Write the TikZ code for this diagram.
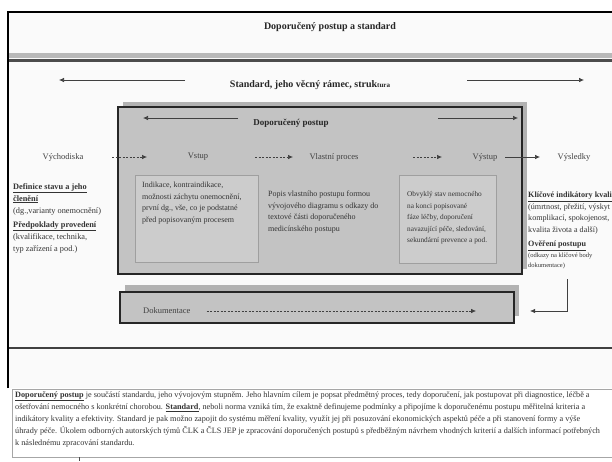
\documentclass[tikz,border=0pt]{standalone}
\usepackage{fontspec}
\setmainfont{Liberation Serif}
\usetikzlibrary{arrows.meta,calc}
\begin{document}
\begin{tikzpicture}[x=1pt,y=-1pt,
  txt/.style={inner sep=0pt, text=black!80, font=\fontsize{8}{11.5}\selectfont},
  lbl/.style={inner sep=0pt, text=black!75, font=\fontsize{8.5}{10}\selectfont},
  hd/.style={inner sep=0pt, text=black!85, font=\bfseries\fontsize{10}{12}\selectfont},
  arr/.style={draw=black!75, line width=0.7pt, -{Latex[length=5pt,width=4.5pt]}},
  darr/.style={arr, dash pattern=on 2pt off 1.5pt},
  bigbox/.style={draw=black!85, line width=2.2pt, fill=gray!47, inner sep=0pt},
  ibox/.style={draw=gray!75, line width=0.6pt, fill=gray!40, inner sep=0pt},
  shade/.style={fill=gray!60}
]
\useasboundingbox (0,0) rectangle (612,461);
\clip (0,0) rectangle (612,461);
\fill[white] (0,0) rectangle (612,461);
% frame
\fill[gray!4] (8,12) rectangle (640,388);
\fill[gray!55] (8,53) rectangle (640,58);
\draw[line width=3pt, black!70] (8,60) -- (640,60);
\draw[line width=2.5pt, black!75] (8,348) -- (640,348);
\draw[line width=2pt, black] (8,388) -- (8,12) -- (640,12);

% title
\node[hd] (title) at (330,27) {Doporučený postup a standard};
\node[hd] (std) at (310,85) {Standard, jeho věcný rámec, struk{\fontsize{7}{8}\selectfont tura}};
\draw[arr] ([shift={(-125,-5)}]std.center) -- ([shift={(-251,-5)}]std.center);
\draw[arr] ([shift={(157,-5)}]std.center) -- ([shift={(274,-5)}]std.center);

% main box
\fill[shade] (123,102) rectangle (527,269);
\node[bigbox, minimum width=404pt, minimum height=167pt] (main) at (320,190.5) {};
\node[hd, font=\bfseries\fontsize{9}{11}\selectfont] (dp) at (291,123) {Doporučený postup};
\draw[arr] ([shift={(-53,-5)}]dp.center) -- ([shift={(-148,-5)}]dp.center);
\draw[arr] ([shift={(147,-5)}]dp.center) -- ([shift={(227,-5)}]dp.center);

% inner boxes
\node[ibox, minimum width=123pt, minimum height=87pt] (inbox) at (196.5,218.5) {};
\node[ibox, minimum width=97pt, minimum height=88pt] (outbox) at (447.5,219) {};

% row labels
\node[lbl] (vych) at (63,157) {Východiska};
\node[lbl] (vstup) at (198,157) {Vstup};
\node[lbl] (vlast) at (334,157) {Vlastní proces};
\node[lbl] (vystup) at (485,157) {Výstup};
\node[lbl] (vysl) at (574,157) {Výsledky};
\draw[darr] ([xshift=49]vych.center) -- ([xshift=-51]vstup.center);
\draw[darr] ([xshift=57]vstup.center) -- ([xshift=-41]vlast.center);
\draw[darr] ([xshift=79]vlast.center) -- ([xshift=-43]vystup.center);
\draw[arr] ([xshift=20]vystup.center) -- ([xshift=-34]vysl.center);

% texts in boxes
\node[txt, anchor=north west, align=left] (intext) at (142,182)
  {Indikace, kontraindikace,\\možnosti záchytu onemocnění,\\první dg., vše, co je podstatné\\před popisovaným procesem};
\node[txt, anchor=north west, align=left] (proctext) at (268,191)
  {Popis vlastního postupu formou\\vývojového diagramu s odkazy do\\textové části doporučeného\\medicínského postupu};
\node[txt, anchor=north west, align=left, font=\fontsize{7.3}{11.5}\selectfont] (outtext) at (407,191.5)
  {Obvyklý stav nemocného\\na konci popisované\\fáze léčby, doporučení\\navazující péče, sledování,\\sekundární prevence a pod.};

% left column
\node[txt, anchor=north west, align=left, font=\fontsize{8.3}{12}\selectfont] (lc) at (13,183)
  {\textbf{\underline{Definice stavu a jeho}}\\\textbf{\underline{členění}}\\(dg.,varianty onemocnění)\\[2pt]
   \textbf{\underline{Předpoklady provedení}}\\(kvalifikace, technika,\\typ zařízení a pod.)};

% right column
\node[txt, anchor=north west, align=left, font=\fontsize{8.1}{11.5}\selectfont] (rc) at (528,192)
  {\textbf{\underline{Klíčové indikátory kvality}}\\(úmrtnost, přežití, výskyt\\komplikací, spokojenost,\\kvalita života a další)\\[3pt]
   \textbf{\underline{Ověření postupu}}\\[-1pt]{\fontsize{6.5}{10}\selectfont (odkazy na klíčové body}\\[-1pt]{\fontsize{6.5}{10}\selectfont dokumentace)}};

% documentation box
\fill[shade] (125,285) rectangle (519,316);
\node[bigbox, minimum width=394pt, minimum height=31pt] (dokbox) at (317,307.5) {};
\node[lbl, anchor=west] (dok) at (143,311) {Dokumentace};
\draw[darr] ([xshift=16]dok.east) -- ($(dok.east -| dokbox.east)+(-39,0)$);
\coordinate (ov) at (567,279);
\draw[arr, line width=0.6pt] (ov) |- ($(dokbox.east)+(15,3.5)$);

% bottom text
\draw[gray!70, line width=1pt, fill=white] (12,389) rectangle (640,457);
\draw[black!70, line width=0.8pt] (79,457) -- (79,461);
\node[txt, anchor=north west, align=left, font=\fontsize{8.2}{12}\selectfont] (para) at (15,391.5)
  {\textbf{\underline{Doporučený postup}} je součástí standardu, jeho vývojovým stupněm. Jeho hlavním cílem je popsat předmětný proces, tedy doporučení, jak postupovat při diagnostice, léčbě a\\
   ošetřování nemocného s konkrétní chorobou. \textbf{\underline{Standard}}, neboli norma vzniká tím, že exaktně definujeme podmínky a připojíme k doporučenému postupu měřitelná kriteria a\\
   indikátory kvality a efektivity. Standard je pak možno zapojit do systému měření kvality, využít jej při posuzování ekonomických aspektů péče a při stanovení formy a výše\\
   úhrady péče. Úkolem odborných autorských týmů ČLK a ČLS JEP je zpracování doporučených postupů s předběžným návrhem vhodných kriterií a dalších informací potřebných\\
   k následnému zpracování standardu.};
\end{tikzpicture}
\end{document}
